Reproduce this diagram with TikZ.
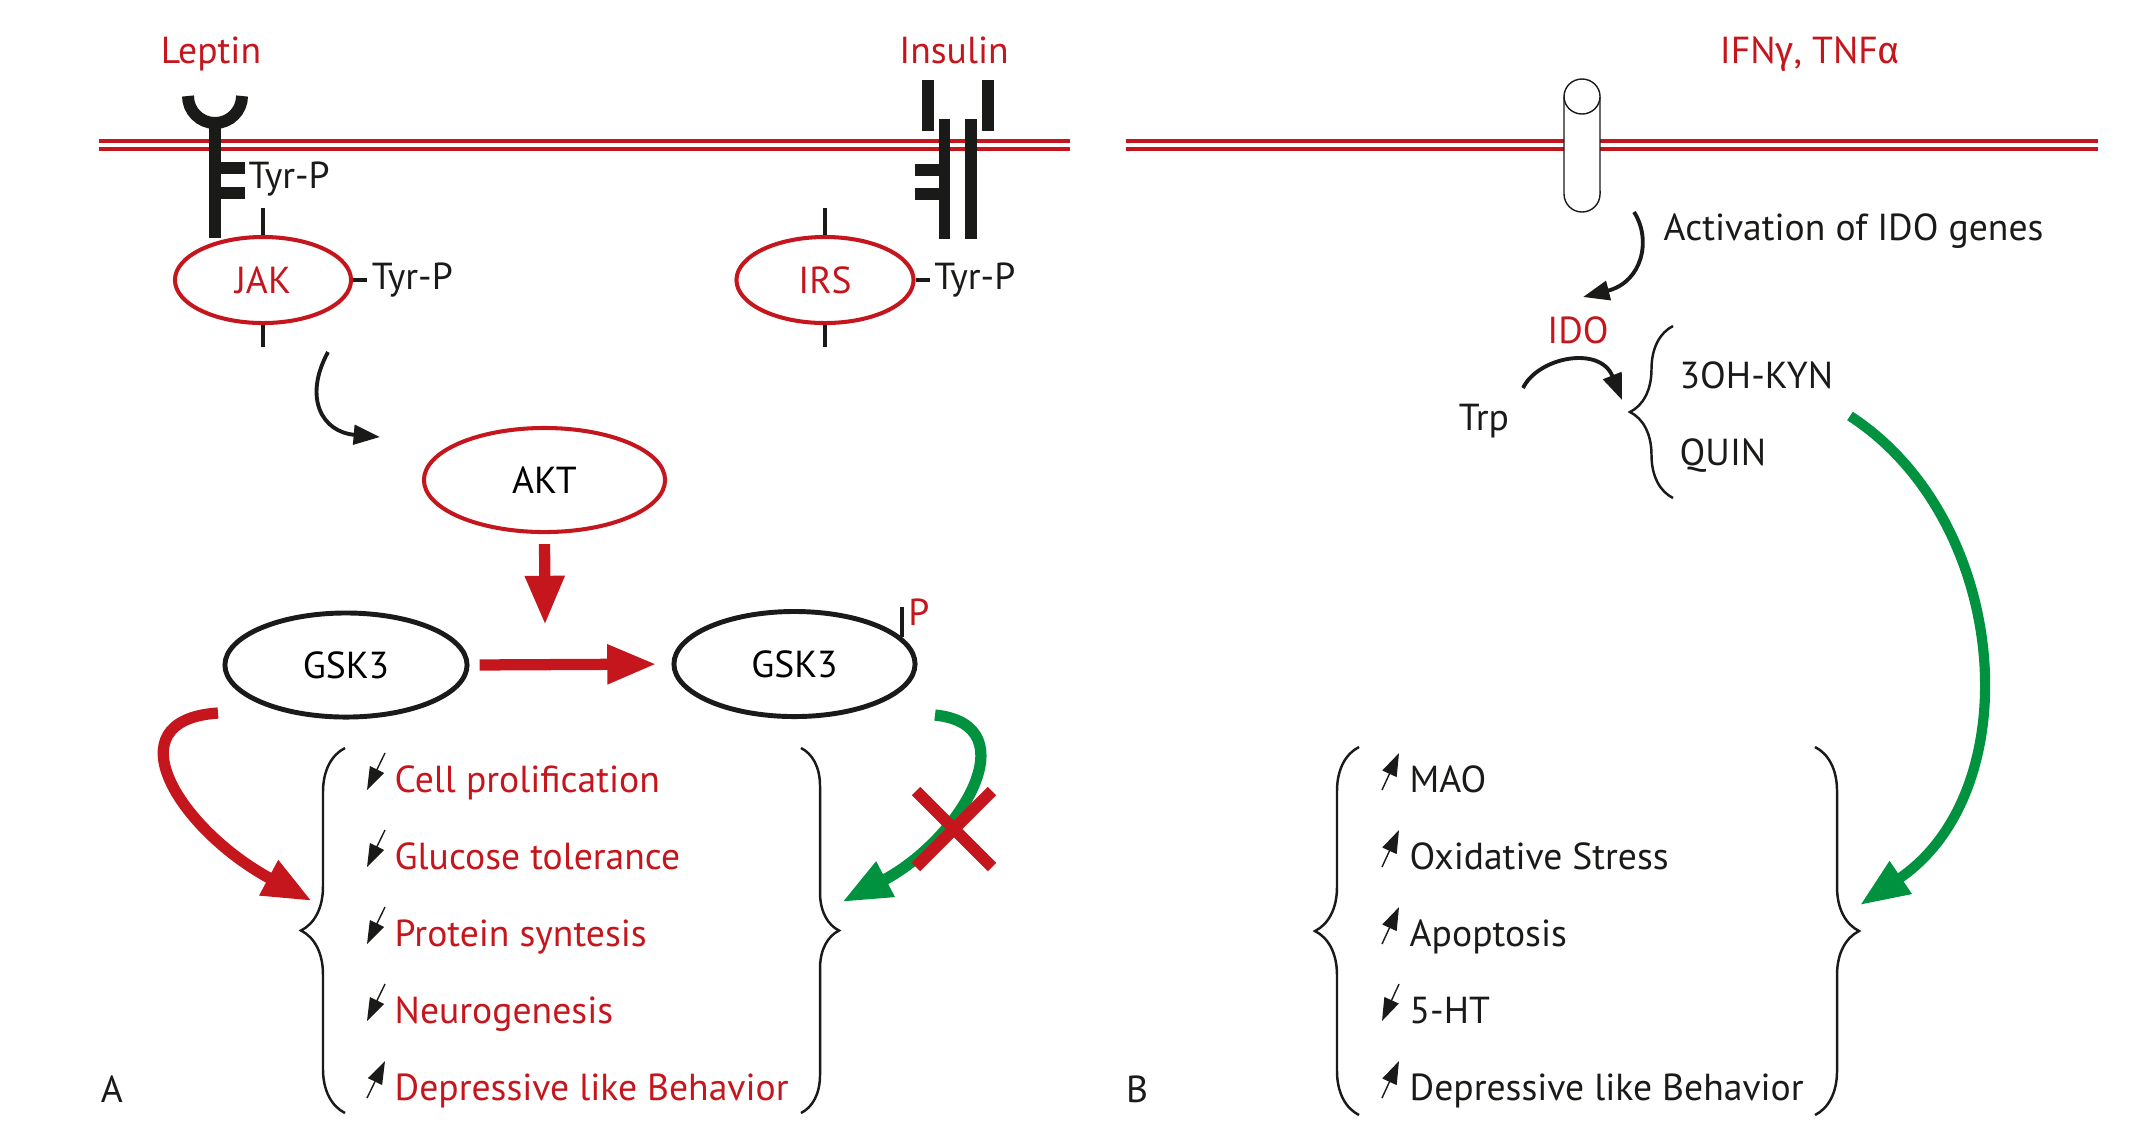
\documentclass[tikz,border=0pt]{standalone}
\usepackage{fontspec}
\setmainfont{PT Sans}
\newfontfamily\grkfont{Fira Sans}
\usetikzlibrary{shapes, arrows.meta, positioning, calc, decorations.pathreplacing}

\definecolor{sigred}{RGB}{196, 22, 28}
\definecolor{siggreen}{RGB}{0, 146, 63}
\definecolor{sigink}{RGB}{26, 26, 24}

\tikzset{
  txt/.style={inner sep=0pt, text=sigink},
  redtxt/.style={inner sep=0pt, text=sigred},
  membrane/.style={draw=sigred, line width=1.15pt},
  bar/.style={draw=sigink, line width=3.4pt},
  tick/.style={draw=sigink, line width=1.1pt},
  enzyme/.style={ellipse, draw=sigred, line width=1.15pt, inner sep=0pt},
  kinase/.style={ellipse, draw=sigink, line width=1.4pt, inner sep=0pt},
  thinarrow/.style={draw=sigink, line width=1.1pt, -{Triangle[length=7.5pt, width=5.5pt]}},
  bigarrow/.style={line width=3.2pt, -{Triangle[length=14pt, width=10.5pt]}},
  curly/.style={draw=sigink, line width=0.7pt, decorate, decoration={brace, amplitude=#1}},
  glyph/.style={draw=sigink, line width=0.4pt},
  fall/.style={-{Triangle[length=6.5pt, width=4.4pt]}},
  rise/.style={{Triangle[length=6.5pt, width=4.4pt]}-},
}

\begin{document}
\begin{tikzpicture}[x=0.01cm, y=-0.01cm, font=\fontsize{10.7}{12.8}\selectfont]
  \useasboundingbox (0,0) rectangle (2143,1135);

  % membranes
  \draw[membrane] (99,141) -- (1070,141) (99,149) -- (1070,149);
  \draw[membrane] (1126,141) -- (2098,141) (1126,149) -- (2098,149);

  % leptin receptor
  \node[redtxt, anchor=base] (leptin) at (211,63) {Leptin};
  \draw[bar] (188,96) arc[start angle=180, end angle=360, radius=0.27cm];
  \draw[bar] (215,123) -- (215,238);
  \draw[bar] (215,168) -- (245,168) (215,193) -- (245,193);
  \node[txt, anchor=base west] (leptyr) at (248,188) {Tyr-P};

  % insulin receptor
  \node[redtxt, anchor=base] (insulin) at (954,63) {Insulin};
  \draw[bar] (928,80) -- (928,131) (988,80) -- (988,131);
  \draw[bar] (944.5,119) -- (944.5,239) (971,119) -- (971,239);
  \draw[bar] (915,170) -- (944,170) (915,194) -- (944,194);

  % JAK and IRS
  \node[enzyme, text=sigred, minimum width=1.76cm, minimum height=0.86cm] (jak) at (263,280) {JAK};
  \draw[tick] (jak.north) -- ++(0,-27) (jak.south) -- ++(0,22);
  \draw[tick] (jak.east) -- ++(14,0) coordinate (jakdash);
  \node[txt, right=0.04cm of jakdash] (jaktyr) {Tyr-P};

  \node[enzyme, text=sigred, minimum width=1.77cm, minimum height=0.86cm] (irs) at (825,280) {IRS};
  \draw[tick] (irs.north) -- ++(0,-27) (irs.south) -- ++(0,22);
  \draw[tick] (irs.east) -- ++(14,0) coordinate (irsdash);
  \node[txt, right=0.04cm of irsdash] (irstyr) {Tyr-P};

  % AKT and GSK3
  \node[enzyme, minimum width=2.41cm, minimum height=1.04cm] (akt) at (544.5,480) {AKT};
  \node[kinase, minimum width=2.42cm, minimum height=1.04cm] (gskL) at (346,665) {GSK3};
  \node[kinase, minimum width=2.41cm, minimum height=1.05cm] (gskR) at (794.5,664) {GSK3};
  \draw[tick] (gskR.14) -- ++(0,-30) coordinate (phos);
  \node[redtxt, anchor=base] (pgroup) at (919,625) {P};

  \coordinate (jakout) at (328,352);
  \coordinate (aktin) at (380,437);
  \draw[thinarrow] (jakout) .. controls (303,398) and (322,432) .. (aktin);

  \coordinate (inhib) at (545,625);
  \draw[bigarrow, sigred, shorten <=0.1cm] (akt.south) -- (inhib);
  \draw[bigarrow, sigred, shorten <=0.1cm, shorten >=0.15cm] (gskL.east) -- (gskR.west);

  % left outcome list
  \foreach \t/\s [count=\i] in {Cell prolification/fall, Glucose tolerance/fall, Protein syntesis/fall, Neurogenesis/fall, Depressive like Behavior/rise} {
    \node[redtxt, anchor=base west] (fx\i) at (394, {792+77*(\i-1)}) {\t};
    \draw[glyph, \s] ($(fx\i.base west)+(-9,-39)$) -- ($(fx\i.base west)+(-27,-2)$);
  }
  \draw[curly=0.44cm] (345,1113) -- (345,748);
  \draw[curly=0.38cm] (801,748) -- (801,1113);

  \coordinate (gsklout) at (218,713);
  \coordinate (leftbr) at (312,901);
  \draw[bigarrow, sigred] (gsklout) .. controls (110,720) and (180,830) .. (leftbr);

  \coordinate (gskrout) at (935,715);
  \coordinate (rightbr) at (842,902);
  \draw[bigarrow, siggreen] (gskrout) .. controls (1030,725) and (960,840) .. (rightbr);
  \draw[sigred, line width=3.4pt] (916,791) -- (992,867) (992,791) -- (916,867);

  \node[txt, anchor=base] (panelA) at (112,1102) {A};

  % right panel
  \node[redtxt, anchor=base] (cytok) at (1810,63) {IFN{\grkfont γ}, TNF{\grkfont α}};
  \draw[sigink, line width=0.4pt, fill=white] (1564,96.5) -- (1564,194)
    arc[start angle=180, end angle=360, radius=0.18cm] -- (1600,96.5);
  \draw[sigink, line width=0.4pt, fill=white] (1582,96.5) ellipse[x radius=0.18cm, y radius=0.175cm];

  \coordinate (chanbase) at (1634,212);
  \coordinate (idoin) at (1583,297);
  \draw[thinarrow] (chanbase) .. controls (1652,240) and (1642,282) .. (idoin);
  \node[txt, anchor=base west] (activ) at (1663,240) {Activation of IDO genes};

  \node[redtxt, anchor=base] (ido) at (1578,343) {IDO};
  \node[txt, anchor=base] (trp) at (1484,430) {Trp};
  \coordinate (trpout) at (1523,388);
  \coordinate (kynin) at (1622,400);
  \draw[thinarrow] (trpout) .. controls (1538,357) and (1600,345) .. (kynin);
  \draw[curly=0.43cm] (1673,498) -- (1673,326);
  \node[txt, anchor=base west] (kyn) at (1679,388) {3OH-KYN};
  \node[txt, anchor=base west] (quin) at (1679,465) {QUIN};

  % right outcome list
  \foreach \t/\s [count=\i] in {MAO/rise, Oxidative Stress/rise, Apoptosis/rise, 5-HT/fall, Depressive like Behavior/rise} {
    \node[txt, anchor=base west] (gx\i) at (1409, {792+77*(\i-1)}) {\t};
    \draw[glyph, \s] ($(gx\i.base west)+(-10,-39)$) -- ($(gx\i.base west)+(-27,-2)$);
  }
  \draw[curly=0.44cm] (1359,1115) -- (1359,747);
  \draw[curly=0.44cm] (1815,747) -- (1815,1115);

  \coordinate (kynout) at (1850,416);
  \coordinate (farbr) at (1860,905);
  \draw[bigarrow, siggreen, line width=2.9pt] (kynout) .. controls (2010,520) and (2030,790) .. (farbr);

  \node[txt, anchor=base] (panelB) at (1137,1102) {B};
\end{tikzpicture}
\end{document}
